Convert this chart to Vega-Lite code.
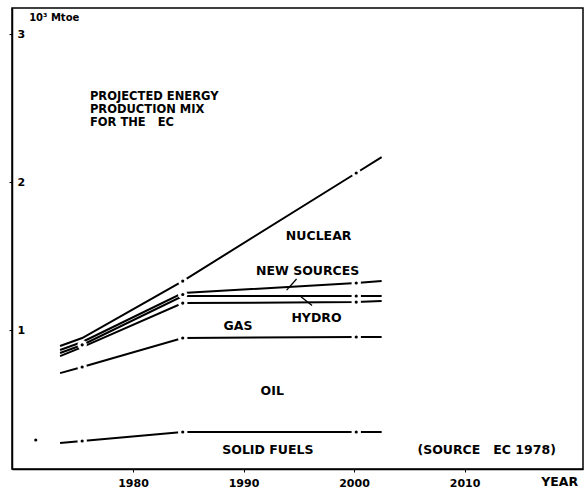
{
  "$schema": "https://vega.github.io/schema/vega-lite/v6.json",
  "width": 571,
  "height": 461,
  "autosize": "none",
  "padding": {"left": 12, "top": 8, "right": 2, "bottom": 24},
  "background": "white",
  "config": {
    "view": {"stroke": "black", "strokeWidth": 1.5},
    "font": "DejaVu Sans"
  },
  "datasets": {
    "lines": [
      {"series": "solid", "year": 1973.4, "v": 0.236},
      {"series": "solid", "year": 1975.4, "v": 0.25},
      {"series": "solid", "year": 1984.5, "v": 0.311},
      {"series": "solid", "year": 2000.2, "v": 0.311},
      {"series": "solid", "year": 2002.5, "v": 0.311},
      {"series": "oil", "year": 1973.4, "v": 0.709},
      {"series": "oil", "year": 1975.4, "v": 0.75},
      {"series": "oil", "year": 1984.5, "v": 0.946},
      {"series": "oil", "year": 2000.2, "v": 0.953},
      {"series": "oil", "year": 2002.5, "v": 0.953},
      {"series": "gas", "year": 1973.4, "v": 0.824},
      {"series": "gas", "year": 1975.4, "v": 0.885},
      {"series": "gas", "year": 1984.5, "v": 1.182},
      {"series": "gas", "year": 2000.2, "v": 1.189},
      {"series": "gas", "year": 2002.5, "v": 1.196},
      {"series": "hydro", "year": 1973.4, "v": 0.845},
      {"series": "hydro", "year": 1975.4, "v": 0.899},
      {"series": "hydro", "year": 1984.5, "v": 1.23},
      {"series": "hydro", "year": 2000.2, "v": 1.23},
      {"series": "hydro", "year": 2002.5, "v": 1.23},
      {"series": "new", "year": 1973.4, "v": 0.865},
      {"series": "new", "year": 1975.4, "v": 0.919},
      {"series": "new", "year": 1984.5, "v": 1.25},
      {"series": "new", "year": 2000.2, "v": 1.318},
      {"series": "new", "year": 2002.5, "v": 1.331},
      {"series": "nuclear", "year": 1973.4, "v": 0.892},
      {"series": "nuclear", "year": 1975.4, "v": 0.946},
      {"series": "nuclear", "year": 1984.5, "v": 1.331},
      {"series": "nuclear", "year": 2000.2, "v": 2.061},
      {"series": "nuclear", "year": 2002.5, "v": 2.169}
    ],
    "dots": [
      {"year": 1971.2, "v": 0.257},
      {"year": 1975.4, "v": 0.25},
      {"year": 1984.5, "v": 0.311},
      {"year": 2000.2, "v": 0.311},
      {"year": 1975.4, "v": 0.75},
      {"year": 1984.5, "v": 0.946},
      {"year": 2000.2, "v": 0.953},
      {"year": 1975.4, "v": 0.9},
      {"year": 1984.5, "v": 1.182},
      {"year": 2000.2, "v": 1.189},
      {"year": 1984.5, "v": 1.24},
      {"year": 2000.2, "v": 1.23},
      {"year": 2000.2, "v": 1.318},
      {"year": 1984.5, "v": 1.331},
      {"year": 2000.2, "v": 2.061}
    ],
    "leftlabels": [
      {"t": "PROJECTED ENERGY", "year": 1976.1, "v": 2.574},
      {"t": "PRODUCTION MIX", "year": 1976.1, "v": 2.486},
      {"t": "FOR THE\u00a0\u00a0 EC", "year": 1976.1, "v": 2.399}
    ],
    "labels": [
      {"t": "NUCLEAR", "year": 1996.8, "v": 1.635},
      {"t": "NEW SOURCES", "year": 1995.8, "v": 1.399},
      {"t": "HYDRO", "year": 1996.6, "v": 1.081},
      {"t": "GAS", "year": 1989.5, "v": 1.027},
      {"t": "OIL", "year": 1992.6, "v": 0.588},
      {"t": "SOLID FUELS", "year": 1992.2, "v": 0.189},
      {"t": "(SOURCE\u00a0\u00a0 EC 1978)", "year": 2012.0, "v": 0.189},
      {"t": "YEAR", "year": 2018.6, "v": -0.026}
    ],
    "arrows": [
      {"year": 1994.8, "v": 1.345, "year2": 1993.9, "v2": 1.27},
      {"year": 1996.2, "v": 1.165, "year2": 1995.2, "v2": 1.225}
    ]
  },
  "encoding": {
    "x": {
      "field": "year", "type": "quantitative",
      "scale": {"domain": [1969.05, 2020.72], "nice": false, "zero": false},
      "axis": {
        "values": [1980, 1990, 2000, 2010], "format": "d", "title": null,
        "grid": false, "domain": true, "domainColor": "black", "domainWidth": 1.5,
        "tickColor": "black", "tickSize": 3, "labelFontSize": 11, "labelFontWeight": "bold",
        "labelColor": "black", "labelPadding": 5
      }
    },
    "y": {
      "field": "v", "type": "quantitative",
      "scale": {"domain": [0.061, 3.176], "nice": false, "zero": false},
      "axis": {
        "values": [1, 2, 3], "title": null, "grid": false,
        "domainColor": "black", "domainWidth": 1.5, "tickColor": "black", "tickSize": 3,
        "labelAlign": "left", "labelPadding": -8, "labelFontSize": 11,
        "labelFontWeight": "bold", "labelColor": "black"
      }
    }
  },
  "layer": [
    {
      "data": {"name": "lines"},
      "mark": {"type": "line", "color": "black", "strokeWidth": 2},
      "encoding": {"detail": {"field": "series"}}
    },
    {
      "data": {"name": "dots"},
      "mark": {"type": "point", "filled": true, "color": "white", "opacity": 1, "size": 90, "shape": "circle"}
    },
    {
      "data": {"name": "dots"},
      "mark": {"type": "point", "filled": true, "color": "black", "opacity": 1, "size": 10, "shape": "circle"}
    },
    {
      "data": {"name": "arrows"},
      "mark": {"type": "rule", "color": "black", "strokeWidth": 1.3},
      "encoding": {"x2": {"field": "year2"}, "y2": {"field": "v2"}}
    },
    {
      "data": {"name": "labels"},
      "mark": {"type": "text", "fontSize": 12.5, "fontWeight": "bold", "color": "black", "align": "center", "baseline": "middle"},
      "encoding": {"text": {"field": "t"}}
    },
    {
      "data": {"name": "leftlabels"},
      "mark": {"type": "text", "fontSize": 11.5, "fontWeight": "bold", "color": "black", "align": "left", "baseline": "middle"},
      "encoding": {"text": {"field": "t"}}
    },
    {
      "data": {"values": [{"year": 1970.6, "v": 3.11}]},
      "mark": {"type": "text", "fontSize": 10, "fontWeight": "bold", "color": "black", "align": "left", "baseline": "middle", "text": "10³ Mtoe"}
    }
  ]
}
